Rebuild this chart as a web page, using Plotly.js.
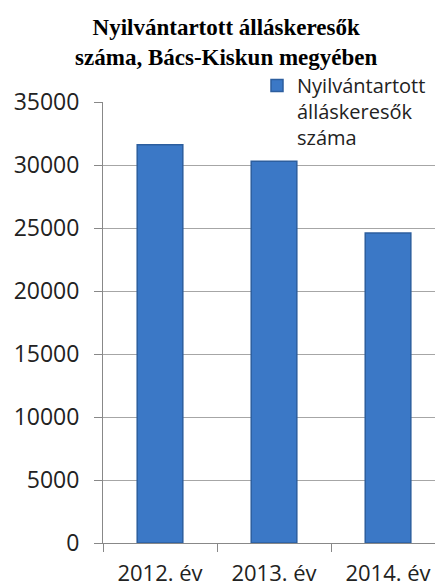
<!DOCTYPE html>
<html><head><meta charset="utf-8">
<script src="https://cdn.plot.ly/plotly-3.0.1.min.js"></script>
<style>html,body{margin:0;padding:0;background:#fff}#chart{width:435px;height:588px}</style>
</head><body><div id="chart"></div>
<script>
const categories = ["2012. év", "2013. év", "2014. év"];
const values = [31600, 30300, 24600];
const seriesName = "Nyilvántartott<br>álláskeresők<br>száma";
const titleText = "Nyilvántartott álláskeresők<br>száma, Bács-Kiskun megyében";
const yTicks = [0, 5000, 10000, 15000, 20000, 25000, 30000, 35000];

const trace = {
  type: "bar",
  x: categories,
  y: values,
  name: seriesName,
  width: 0.4,
  marker: {color: "#3b78c6", line: {color: "#2c5e9e", width: 1.5}},
  showlegend: true,
  hoverinfo: "skip"
};

const layout = {
  width: 435, height: 588,
  margin: {l: 103, r: 0, t: 102, b: 45},
  paper_bgcolor: "#fff", plot_bgcolor: "#fff",
  font: {family: "Open Sans, Noto Sans, sans-serif", color: "#222"},
  title: {
    text: titleText,
    font: {family: "Liberation Serif, serif", size: 23, color: "#000", weight: "bold"},
    x: 0.52, xanchor: "center", xref: "container",
    y: 0.94, yanchor: "top", yref: "container"
  },
  xaxis: {
    type: "category",
    range: [-0.5, 2.412],
    tickson: "boundaries",
    ticks: "outside", ticklen: 8, tickcolor: "#888",
    showline: true, linecolor: "#888", linewidth: 1,
    showgrid: false,
    ticklabelstandoff: 11,
    tickfont: {size: 22, color: "#222"},
    fixedrange: true
  },
  yaxis: {
    range: [0, 35000],
    tickvals: yTicks,
    ticktext: yTicks.map(String),
    ticks: "outside", ticklen: 8, tickcolor: "#888",
    showline: true, linecolor: "#888", linewidth: 1,
    showgrid: true, gridcolor: "#a6a6a6", gridwidth: 1,
    zeroline: false,
    ticklabelstandoff: 10,
    tickfont: {size: 23, color: "#222"},
    fixedrange: true
  },
  shapes: [{
    type: "rect", xref: "paper", yref: "y",
    x0: (287 - 103) / 332, x1: (412 - 103) / 332, y0: 34600, y1: 35400,
    fillcolor: "#fff", line: {width: 0}, layer: "above"
  }],
  showlegend: true,
  legend: {
    x: (257 - 103) / 332, xanchor: "left", xref: "paper",
    y: 1 + 36 / 441, yanchor: "top", yref: "paper",
    bgcolor: "rgba(255,255,255,0)",
    valign: "top",
    font: {size: 20, color: "#222"},
    tracegroupgap: 0
  }
};

Plotly.newPlot("chart", [trace], layout, {displayModeBar: false, staticPlot: true});
</script></body></html>
